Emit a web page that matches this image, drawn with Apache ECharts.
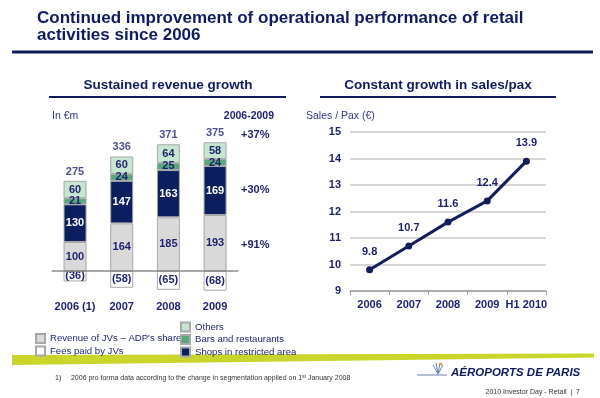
<!DOCTYPE html>
<html>
<head>
<meta charset="utf-8">
<script src="https://cdn.jsdelivr.net/npm/echarts@6/dist/echarts.min.js"></script>
<style>
	html, body { margin: 0; padding: 0; background: #fff; }
	#chart { width: 600px; height: 398px; }
</style>
</head>
<body>
<div id="chart"></div>
<script>
// left chart : revenue (in €m)
var years = ['2006 (1)', '2007', '2008', '2009']
var jvRevenue = [100, 164, 185, 193]
var shops = [130, 147, 163, 169]
var barsRestaurants = [21, 24, 25, 24]
var others = [60, 60, 64, 58]
var jvFees = [-36, -58, -65, -68]
var totals = [275, 336, 371, 375]
var growth = ['+37%', '+30%', '+91%']

// right chart : sales / pax (€)
var paxYears = ['2006', '2007', '2008', '2009', 'H1 2010']
var salesPerPax = [9.8, 10.7, 11.6, 12.4, 13.9]

var FONT = '"Liberation Sans", Arial, sans-serif'
var NAVY = '#0f1b5e'
var TXT = '#1c1f6e'
var BORDER = '#a8a8a8'

var stackTop = years.map(function (y, i) {
	return jvRevenue[i] + shops[i] + barsRestaurants[i] + others[i]
})

function barLabel(color) {
	return {
		show: true,
		position: 'inside',
		color: color,
		fontFamily: FONT,
		fontWeight: 'bold',
		fontSize: 11
	}
}

function txt(x, y, text, size, weight, color, align, extra) {
	var style = {
		text: text,
		font: (extra || '') + ' ' + weight + ' ' + size + 'px ' + FONT,
		fill: color,
		align: align || 'left',
		verticalAlign: 'middle'
	}
	return { type: 'text', x: x, y: y, style: style }
}

var graphics = [
	txt(37, 18, 'Continued improvement of operational performance of retail', 17, 'bold', NAVY),
	txt(37, 35, 'activities since 2006', 17, 'bold', NAVY),
	{ type: 'rect', shape: { x: 12, y: 50.5, width: 581, height: 3 }, style: { fill: NAVY } },
	txt(168, 85, 'Sustained revenue growth', 13.5, 'bold', NAVY, 'center'),
	{ type: 'rect', shape: { x: 49, y: 96, width: 237, height: 2 }, style: { fill: NAVY } },
	txt(438, 85, 'Constant growth in sales/pax', 13.5, 'bold', NAVY, 'center'),
	{ type: 'rect', shape: { x: 320, y: 96, width: 236, height: 2 }, style: { fill: NAVY } },
	txt(52, 116, 'In €m', 10.5, 'normal', '#34358a'),
	txt(274, 116, '2006-2009', 10.5, 'bold', TXT, 'right'),
	txt(306, 116, 'Sales / Pax (€)', 10.5, 'normal', '#34358a'),
	txt(241, 135, growth[0], 11, 'bold', TXT),
	txt(241, 190, growth[1], 11, 'bold', TXT),
	txt(241, 245, growth[2], 11, 'bold', TXT),
	// lime band
	{ type: 'polygon', shape: { points: [[12, 355], [594, 353.5], [594, 357.5], [12, 365]] }, style: { fill: '#c9d52b' } },
	{
		type: 'text', x: 55, y: 378,
		style: {
			text: '1)     2006 pro forma data according to the change in segmentation applied on 1{s|st} January 2008',
			font: 'normal 7px ' + FONT, fill: '#333', verticalAlign: 'middle',
			rich: { s: { fontSize: 5, verticalAlign: 'top', fontFamily: FONT, fill: '#333' } }
		}
	},
	// logo
	{ type: 'line', shape: { x1: 417, y1: 375, x2: 447, y2: 375 }, style: { stroke: '#6a7db0', lineWidth: 1 } },
	{ type: 'polyline', shape: { points: [[433, 365], [438, 374], [443, 365]] }, style: { stroke: '#6a7db0', lineWidth: 1, fill: null } },
	{ type: 'polyline', shape: { points: [[436, 363], [438, 374], [440, 363]] }, style: { stroke: '#6a7db0', lineWidth: 1, fill: null } },
	{ type: 'circle', shape: { cx: 441, cy: 364, r: 1.5 }, style: { fill: '#f0a030' } },
	txt(451, 373, 'AÉROPORTS DE PARIS', 11.5, 'bold', NAVY, 'left', 'italic'),
	txt(580, 392, '2010 Investor Day - Retail  |  7', 7, 'normal', '#333', 'right')
]

var legendBase = {
	orient: 'vertical',
	padding: 0,
	itemWidth: 9, itemHeight: 9, itemGap: 1.5,
	selectedMode: false,
	icon: 'rect',
	textStyle: { color: TXT, fontSize: 9.6, fontFamily: FONT }
}

var option = {
	animation: false,
	textStyle: { fontFamily: FONT },
	graphic: graphics,
	legend: [
		Object.assign({}, legendBase, {
			left: 35, top: 333,
			data: ['Revenue of JVs – ADP\'s share', 'Fees paid by JVs']
		}),
		Object.assign({}, legendBase, {
			left: 180, top: 321.5,
			data: ['Others', 'Bars and restaurants', 'Shops in restricted area']
		})
	],
	grid: [
		{ left: 51.7, width: 186.7, top: 126, height: 174 },
		{ left: 350, width: 196, top: 132, height: 159 }
	],
	xAxis: [{
		gridIndex: 0,
		type: 'category',
		data: years,
		axisLine: { show: false },
		axisTick: { show: false },
		axisLabel: { color: TXT, fontWeight: 'bold', fontSize: 11, margin: 1.5, interval: 0 }
	}, {
		gridIndex: 1,
		type: 'category',
		data: paxYears,
		axisLine: { lineStyle: { color: '#a0a0a0', width: 1.5 } },
		axisTick: { show: true, length: 4, lineStyle: { color: '#a0a0a0' } },
		axisLabel: { color: TXT, fontWeight: 'bold', fontSize: 11, margin: 8, interval: 0 }
	}],
	yAxis: [{
		gridIndex: 0,
		type: 'value',
		min: -100, max: 500,
		show: false
	}, {
		gridIndex: 1,
		type: 'value',
		min: 9, max: 15, interval: 1,
		axisLine: { show: false },
		axisTick: { show: false },
		axisLabel: { color: TXT, fontWeight: 'bold', fontSize: 11, margin: 9 },
		splitLine: { lineStyle: { color: '#c8c8c8', width: 1.5 } }
	}],
	series: [{
		name: 'Revenue of JVs – ADP\'s share',
		type: 'bar', stack: 'rev', barWidth: 23,
		data: jvRevenue,
		itemStyle: { color: '#d9d9d9', borderColor: BORDER, borderWidth: 1 },
		label: barLabel(TXT),
		markLine: {
			silent: true,
			symbol: 'none',
			label: { show: false },
			lineStyle: { color: '#8a8a8a', width: 1.5, type: 'solid' },
			data: [{ yAxis: 0 }]
		}
	}, {
		name: 'Shops in restricted area',
		type: 'bar', stack: 'rev', barWidth: 23,
		data: shops,
		itemStyle: { color: '#0b1f5e', borderColor: BORDER, borderWidth: 1 },
		label: barLabel('#fff')
	}, {
		name: 'Bars and restaurants',
		type: 'bar', stack: 'rev', barWidth: 23,
		data: barsRestaurants,
		itemStyle: { color: '#58a87c', borderColor: BORDER, borderWidth: 1 },
		label: barLabel(TXT)
	}, {
		name: 'Others',
		type: 'bar', stack: 'rev', barWidth: 23,
		data: others,
		itemStyle: { color: '#c6e6d0', borderColor: BORDER, borderWidth: 1 },
		label: barLabel(TXT)
	}, {
		name: 'Fees paid by JVs',
		type: 'bar', stack: 'rev', barWidth: 23,
		data: jvFees,
		itemStyle: { color: '#fff', borderColor: BORDER, borderWidth: 1 },
		label: Object.assign(barLabel(TXT), {
			formatter: function (p) { return '(' + (-p.value) + ')' }
		})
	}, {
		name: 'total',
		type: 'scatter',
		data: stackTop,
		symbolSize: 1,
		itemStyle: { color: 'transparent' },
		label: {
			show: true,
			position: 'top',
			distance: 3,
			color: TXT,
			fontWeight: 'bold',
			fontSize: 11,
			formatter: function (p) { return totals[p.dataIndex] }
		}
	}, {
		name: 'Sales / Pax',
		type: 'line',
		xAxisIndex: 1, yAxisIndex: 1,
		data: salesPerPax,
		symbol: 'circle', symbolSize: 7,
		lineStyle: { color: '#141c5c', width: 3 },
		itemStyle: { color: '#141c5c' },
		label: {
			show: true,
			position: 'top',
			distance: 9,
			color: TXT,
			fontWeight: 'bold',
			fontSize: 11
		}
	}]
}

var myChart = echarts.init(document.getElementById('chart'))
myChart.setOption(option)
</script>
</body>
</html>
